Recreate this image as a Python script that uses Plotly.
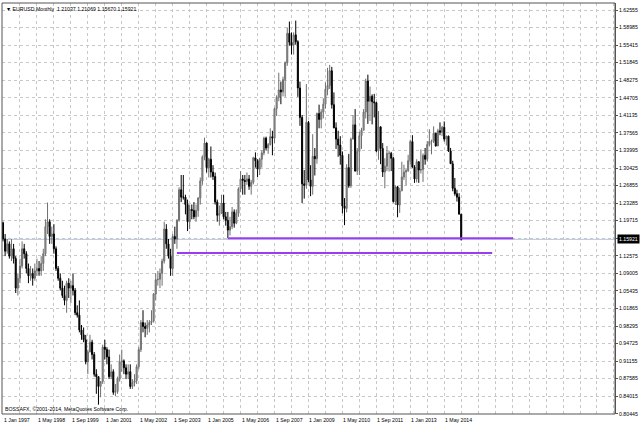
import plotly.graph_objects as go

# ---------------- data (EURUSD monthly, Jan 1997 .. Jan 2015) ----------------
first_open = 1.193
highs = [
    1.195, 1.170, 1.160, 1.155, 1.160, 1.150, 1.125, 1.090, 1.120, 1.155, 1.150, 1.135,  # 1997
    1.110, 1.105, 1.100, 1.110, 1.120, 1.115, 1.125, 1.140, 1.200, 1.234, 1.200, 1.185,  # 1998
    1.190, 1.145, 1.105, 1.090, 1.075, 1.065, 1.075, 1.080, 1.075, 1.090, 1.060, 1.025,  # 1999
    1.035, 0.985, 0.980, 0.965, 0.935, 0.965, 0.955, 0.930, 0.895, 0.880, 0.870, 0.945,  # 2000
    0.955, 0.940, 0.935, 0.905, 0.895, 0.865, 0.880, 0.925, 0.935, 0.915, 0.905, 0.905,  # 2001
    0.905, 0.875, 0.885, 0.905, 0.940, 0.995, 1.015, 0.990, 0.995, 0.995, 1.015, 1.050,  # 2002
    1.090, 1.095, 1.100, 1.120, 1.195, 1.190, 1.160, 1.140, 1.170, 1.185, 1.200, 1.265,  # 2003
    1.290, 1.290, 1.250, 1.240, 1.230, 1.230, 1.235, 1.230, 1.245, 1.285, 1.330, 1.366,  # 2004
    1.356, 1.325, 1.348, 1.310, 1.295, 1.240, 1.228, 1.250, 1.250, 1.215, 1.215, 1.205,  # 2005
    1.225, 1.220, 1.220, 1.265, 1.298, 1.290, 1.290, 1.295, 1.290, 1.280, 1.327, 1.336,  # 2006
    1.322, 1.325, 1.340, 1.368, 1.368, 1.355, 1.385, 1.380, 1.427, 1.452, 1.498, 1.480,  # 2007
    1.490, 1.521, 1.590, 1.602, 1.580, 1.580, 1.604, 1.564, 1.480, 1.412, 1.300, 1.475,  # 2008
    1.400, 1.310, 1.373, 1.345, 1.417, 1.433, 1.424, 1.446, 1.478, 1.508, 1.514, 1.510,  # 2009
    1.458, 1.397, 1.380, 1.369, 1.338, 1.243, 1.312, 1.333, 1.366, 1.412, 1.424, 1.345,  # 2010
    1.378, 1.386, 1.424, 1.486, 1.494, 1.470, 1.454, 1.455, 1.439, 1.420, 1.382, 1.355,  # 2011
    1.324, 1.349, 1.339, 1.337, 1.327, 1.269, 1.268, 1.264, 1.317, 1.311, 1.302, 1.331,  # 2012
    1.362, 1.371, 1.310, 1.322, 1.318, 1.342, 1.334, 1.345, 1.359, 1.383, 1.362, 1.389,  # 2013
    1.374, 1.384, 1.397, 1.390, 1.399, 1.370, 1.370, 1.345, 1.319, 1.284, 1.260, 1.253,  # 2014
    1.21069,                                                                               # 2015
]
lows = [
    1.155, 1.125, 1.130, 1.120, 1.115, 1.110, 1.050, 1.045, 1.070, 1.100, 1.120, 1.090,
    1.070, 1.075, 1.065, 1.075, 1.085, 1.085, 1.085, 1.095, 1.125, 1.170, 1.150, 1.150,
    1.130, 1.095, 1.075, 1.055, 1.040, 1.025, 1.010, 1.040, 1.030, 1.045, 1.005, 1.000,
    0.970, 0.955, 0.950, 0.905, 0.885, 0.930, 0.915, 0.880, 0.845, 0.823, 0.838, 0.865,
    0.915, 0.905, 0.875, 0.875, 0.843, 0.840, 0.845, 0.870, 0.890, 0.885, 0.875, 0.875,
    0.855, 0.855, 0.860, 0.865, 0.895, 0.930, 0.970, 0.960, 0.965, 0.970, 0.985, 0.990,
    1.035, 1.065, 1.060, 1.065, 1.110, 1.140, 1.120, 1.085, 1.085, 1.150, 1.140, 1.195,
    1.235, 1.240, 1.210, 1.176, 1.180, 1.200, 1.200, 1.195, 1.205, 1.230, 1.270, 1.320,
    1.295, 1.285, 1.285, 1.280, 1.230, 1.195, 1.187, 1.212, 1.200, 1.187, 1.1615, 1.167,
    1.180, 1.183, 1.190, 1.205, 1.255, 1.250, 1.250, 1.270, 1.260, 1.250, 1.271, 1.305,
    1.286, 1.290, 1.305, 1.330, 1.340, 1.333, 1.350, 1.330, 1.355, 1.410, 1.440, 1.434,
    1.450, 1.449, 1.512, 1.553, 1.535, 1.535, 1.555, 1.449, 1.390, 1.233, 1.242, 1.262,
    1.275, 1.247, 1.250, 1.289, 1.313, 1.385, 1.385, 1.405, 1.425, 1.452, 1.465, 1.425,
    1.385, 1.343, 1.327, 1.311, 1.212, 1.188, 1.214, 1.264, 1.264, 1.368, 1.297, 1.290,
    1.290, 1.343, 1.381, 1.405, 1.394, 1.400, 1.393, 1.407, 1.336, 1.321, 1.312, 1.286,
    1.263, 1.298, 1.297, 1.298, 1.234, 1.229, 1.204, 1.213, 1.257, 1.280, 1.269, 1.296,
    1.311, 1.305, 1.274, 1.275, 1.274, 1.293, 1.276, 1.311, 1.318, 1.348, 1.332, 1.355,
    1.348, 1.349, 1.371, 1.369, 1.358, 1.350, 1.337, 1.313, 1.257, 1.248, 1.236, 1.210,
    1.15670,
]
closes = [
    1.160, 1.135, 1.150, 1.125, 1.140, 1.120, 1.060, 1.080, 1.105, 1.140, 1.130, 1.100,
    1.085, 1.090, 1.080, 1.095, 1.100, 1.095, 1.110, 1.130, 1.185, 1.195, 1.165, 1.170,
    1.140, 1.100, 1.080, 1.060, 1.045, 1.035, 1.070, 1.060, 1.065, 1.055, 1.010, 1.005,
    0.975, 0.965, 0.955, 0.910, 0.930, 0.950, 0.925, 0.885, 0.880, 0.860, 0.870, 0.940,
    0.935, 0.920, 0.880, 0.890, 0.848, 0.850, 0.875, 0.910, 0.912, 0.898, 0.885, 0.890,
    0.860, 0.868, 0.872, 0.900, 0.935, 0.990, 0.982, 0.978, 0.985, 0.990, 0.993, 1.048,
    1.077, 1.078, 1.090, 1.115, 1.180, 1.150, 1.125, 1.100, 1.165, 1.160, 1.198, 1.260,
    1.245, 1.245, 1.230, 1.195, 1.220, 1.218, 1.205, 1.218, 1.243, 1.278, 1.327, 1.355,
    1.305, 1.322, 1.296, 1.287, 1.235, 1.208, 1.212, 1.233, 1.205, 1.198, 1.178, 1.185,
    1.215, 1.192, 1.212, 1.262, 1.282, 1.279, 1.277, 1.282, 1.267, 1.275, 1.325, 1.319,
    1.302, 1.322, 1.335, 1.365, 1.345, 1.352, 1.368, 1.365, 1.425, 1.448, 1.463, 1.459,
    1.484, 1.518, 1.578, 1.560, 1.554, 1.575, 1.561, 1.467, 1.407, 1.272, 1.269, 1.397,
    1.280, 1.267, 1.328, 1.323, 1.415, 1.403, 1.418, 1.434, 1.464, 1.472, 1.502, 1.433,
    1.386, 1.363, 1.351, 1.330, 1.227, 1.222, 1.305, 1.268, 1.363, 1.392, 1.298, 1.338,
    1.370, 1.381, 1.418, 1.481, 1.440, 1.450, 1.439, 1.437, 1.339, 1.388, 1.344, 1.296,
    1.308, 1.334, 1.334, 1.324, 1.236, 1.266, 1.229, 1.258, 1.286, 1.296, 1.299, 1.319,
    1.358, 1.306, 1.282, 1.317, 1.300, 1.301, 1.330, 1.322, 1.352, 1.358, 1.359, 1.375,
    1.349, 1.380, 1.377, 1.387, 1.363, 1.369, 1.339, 1.313, 1.263, 1.252, 1.245, 1.21037,
    1.15921,
]
opens = [first_open] + closes[:-1]
months = list(range(len(closes)))

x_tick_labels = ["1 Jan 1997", "1 May 1998", "1 Sep 1999", "1 Jan 2001", "1 May 2002",
                 "1 Sep 2003", "1 Jan 2005", "1 May 2006", "1 Sep 2007", "1 Jan 2009",
                 "1 May 2010", "1 Sep 2011", "1 Jan 2013", "1 May 2014"]
x_label_months = [0, 16, 32, 48, 64, 80, 96, 112, 128, 144, 160, 176, 192, 208]
x_grid_months = list(range(0, 289, 8))

y_tick_values = [0.80445, 0.84015, 0.87585, 0.91155, 0.94725, 0.98295, 1.01865, 1.05435,
                 1.09005, 1.12575, 1.16145, 1.19715, 1.23285, 1.26855, 1.30425, 1.33995,
                 1.37565, 1.41135, 1.44705, 1.48275, 1.51845, 1.55415, 1.58985, 1.62555]
y_hidden_label = 1.16145

current_price = 1.15921
title_text = "▼ EURUSD,Monthly  1.21037 1.21069 1.15670 1.15921"
copyright_text = "BOSSAFX, ©2001-2014, MetaQuotes Software Corp."

# support lines drawn by the user (price level, first month, last month)
level_prices = [1.1615, 1.1313]
level_start = [106, 82]
level_end = [240.5, 230.6]

FONT = "Liberation Sans"
FS = 5.2

fig = go.Figure()
fig.add_trace(go.Candlestick(
    x=months, open=opens, high=highs, low=lows, close=closes,
    increasing=dict(line=dict(color="#6e6e6e", width=1), fillcolor="#a8a8a8"),
    decreasing=dict(line=dict(color="#000000", width=1), fillcolor="#000000"),
    whiskerwidth=0, hoverinfo="skip", showlegend=False,
))

shapes = []
# current price line
shapes.append(dict(type="line", xref="paper", x0=0, x1=1, yref="y",
                   y0=current_price, y1=current_price,
                   line=dict(color="#b4c3dc", width=1), layer="below"))
for p, s, e in zip(level_prices, level_start, level_end):
    shapes.append(dict(type="line", xref="x", x0=s, x1=e, yref="y", y0=p, y1=p,
                       line=dict(color="#9b3cf2", width=2)))
# frame
shapes.append(dict(type="rect", xref="paper", yref="paper", x0=0, x1=1, y0=0, y1=1,
                   line=dict(color="#555555", width=1)))

annotations = []
for m, t in zip(x_label_months, x_tick_labels):
    annotations.append(dict(x=m, xref="x", y=0, yref="paper", text=t, showarrow=False,
                            xanchor="left", yanchor="top", yshift=-1, xshift=-1,
                            font=dict(family=FONT, size=FS, color="#000000")))
annotations.append(dict(x=0, xref="paper", y=1, yref="paper", text=title_text,
                        showarrow=False, xanchor="left", yanchor="top", xshift=2, yshift=-1,
                        font=dict(family=FONT, size=FS, color="#000000")))
annotations.append(dict(x=0, xref="paper", y=0, yref="paper", text=copyright_text,
                        showarrow=False, xanchor="left", yanchor="bottom", xshift=1, yshift=0,
                        font=dict(family=FONT, size=FS, color="#000000")))
annotations.append(dict(x=1, xref="paper", y=current_price, yref="y",
                        text=f"{current_price:.5f}", showarrow=False,
                        xanchor="left", yanchor="middle", xshift=2,
                        bgcolor="#000000", borderpad=1,
                        font=dict(family=FONT, size=FS, color="#ffffff")))

y_tick_text = ["" if v == y_hidden_label else f"{v:.5f}" for v in y_tick_values]

fig.update_layout(
    width=640, height=428,
    margin=dict(l=2, r=25, t=3, b=14),
    paper_bgcolor="#ffffff", plot_bgcolor="#ffffff",
    shapes=shapes, annotations=annotations,
    xaxis=dict(range=[-0.47, 288.5], tickvals=x_grid_months, showticklabels=False,
               showgrid=True, gridcolor="#c8c8c8", griddash="dot", gridwidth=1,
               zeroline=False, rangeslider=dict(visible=False), fixedrange=True,
               showline=False, ticks=""),
    yaxis=dict(side="right", range=[0.8040, 1.6398], tickvals=y_tick_values,
               ticktext=y_tick_text, showgrid=True, gridcolor="#c8c8c8",
               griddash="dot", gridwidth=1, zeroline=False, ticks="outside",
               ticklen=2, tickcolor="#555555", showline=True, linecolor="#555555",
               tickfont=dict(family=FONT, size=FS, color="#000000"), fixedrange=True,
               automargin=False),
    font=dict(family=FONT, size=FS),
)

fig.write_html("out.html", config={"displayModeBar": False},
               post_script="document.body.style.margin='0';document.body.style.overflow='hidden';")
